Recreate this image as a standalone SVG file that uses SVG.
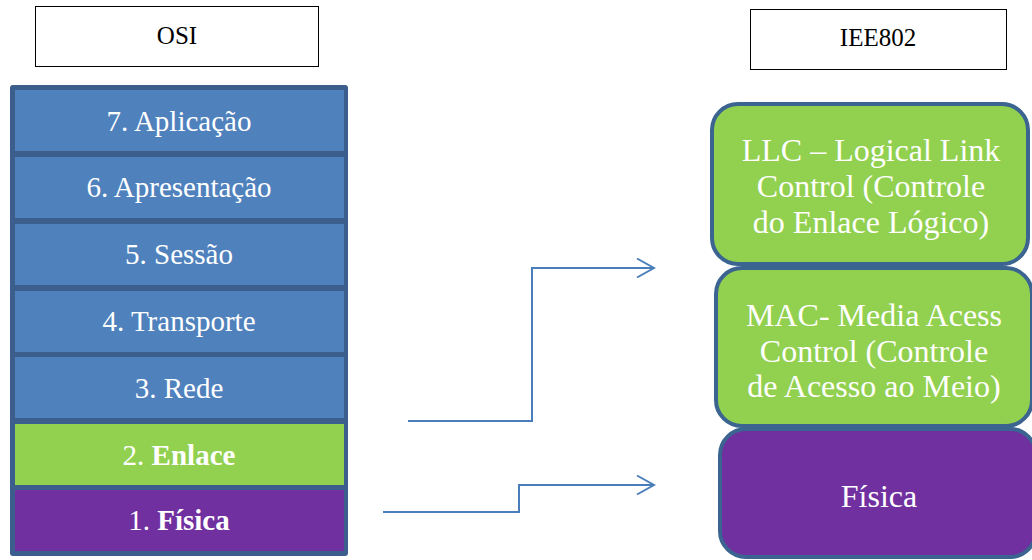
<svg xmlns="http://www.w3.org/2000/svg" width="1032" height="560" viewBox="0 0 1032 560">
<style>
.t{font-family:"Liberation Serif","Times New Roman",serif;fill:#fff;text-anchor:middle}
.h{font-family:"Liberation Serif","Times New Roman",serif;fill:#000;text-anchor:middle;font-size:25px}
.blue{fill:#4F81BD}
.green{fill:#92D050}
.purple{fill:#7030A0}
.lay{font-size:29px}
.ieee{font-size:32px}
.conn{fill:none;stroke:#4A7EBB;stroke-width:2}
</style>
<defs>
<marker id="arr" markerUnits="userSpaceOnUse" markerWidth="20" markerHeight="22" refX="17" refY="10" orient="auto" viewBox="-1 -1 20 22">
<path d="M0,0.5 L17,10 L0,19.5" fill="none" stroke="#4A7EBB" stroke-width="2"/>
</marker>
</defs>
<g id="osi-title">
<rect x="35.5" y="6.5" width="283" height="60" fill="#fff" stroke="#000" stroke-width="1"/>
<text class="h" x="177" y="44">OSI</text>
</g>
<g id="ieee-title">
<rect x="750.5" y="9.5" width="256" height="60" fill="#fff" stroke="#000" stroke-width="1"/>
<text class="h" x="878" y="46">IEE802</text>
</g>
<g id="osi-stack">
<rect x="10" y="85" width="338" height="471" rx="3" fill="#3B5E8C"/>
</g>
<g id="l7"><rect class="blue" x="15" y="90" width="329" height="61"/><text class="t lay" x="179" y="131">7. Aplicação</text></g>
<g id="l6"><rect class="blue" x="15" y="157" width="329" height="61"/><text class="t lay" x="179" y="197">6. Apresentação</text></g>
<g id="l5"><rect class="blue" x="15" y="224" width="329" height="61"/><text class="t lay" x="179" y="264">5. Sessão</text></g>
<g id="l4"><rect class="blue" x="15" y="291" width="329" height="61"/><text class="t lay" x="179" y="331">4. Transporte</text></g>
<g id="l3"><rect class="blue" x="15" y="357" width="329" height="61"/><text class="t lay" x="179" y="398">3. Rede</text></g>
<g id="l2"><rect class="green" x="15" y="424" width="329" height="61"/><text class="t lay" x="179" y="465">2. <tspan font-weight="bold">Enlace</tspan></text></g>
<g id="l1"><rect class="purple" x="15" y="490" width="329" height="61"/><text class="t lay" x="179" y="530">1. <tspan font-weight="bold">Física</tspan></text></g>
<g id="llc">
<rect x="712" y="104" width="316" height="160" rx="26" fill="#92D050" stroke="#3B6491" stroke-width="4"/>
<text class="t ieee" x="871" y="161">LLC – Logical Link</text>
<text class="t ieee" x="871" y="197">Control (Controle</text>
<text class="t ieee" x="871" y="233">do Enlace Lógico)</text>
</g>
<g id="mac">
<rect x="716" y="268" width="316" height="158" rx="26" fill="#92D050" stroke="#3B6491" stroke-width="4"/>
<text class="t ieee" x="874" y="326">MAC- Media Acess</text>
<text class="t ieee" x="874" y="362">Control (Controle</text>
<text class="t ieee" x="874" y="397">de Acesso ao Meio)</text>
</g>
<g id="fisica">
<rect x="720" y="429" width="316" height="128" rx="26" fill="#7030A0" stroke="#3B6491" stroke-width="4"/>
<text class="t ieee" x="879" y="507">Física</text>
</g>
<g id="connectors">
<path class="conn" d="M408,421 H532 V268 H654" marker-end="url(#arr)"/>
<path class="conn" d="M383,512 H519 V485 H654" marker-end="url(#arr)"/>
</g>
</svg>
